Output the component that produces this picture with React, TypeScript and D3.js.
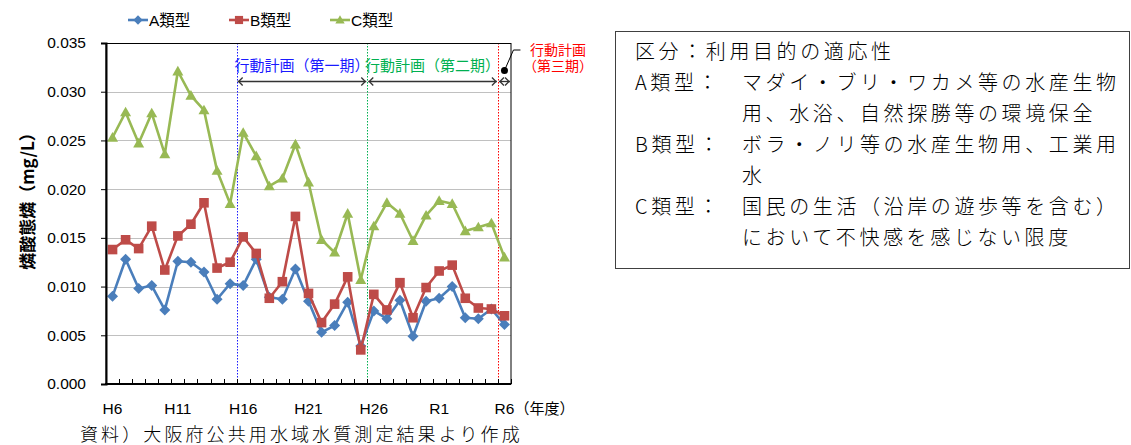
import { useEffect, useRef } from "react";
import * as d3 from "d3";

// 年度 (H6〜R6)
const categories = [
  "H6", "H7", "H8", "H9", "H10", "H11", "H12", "H13", "H14", "H15",
  "H16", "H17", "H18", "H19", "H20", "H21", "H22", "H23", "H24", "H25",
  "H26", "H27", "H28", "H29", "H30", "R1", "R2", "R3", "R4", "R5", "R6",
];
const tickLabels = ["H6", "H11", "H16", "H21", "H26", "R1", "R6"];
const yTicks = [0, 0.005, 0.01, 0.015, 0.02, 0.025, 0.03, 0.035];

const typeA = [
  0.0090, 0.0128, 0.0098, 0.0101, 0.0076, 0.0126, 0.0125, 0.0115, 0.0087, 0.0103,
  0.0101, 0.0128, 0.0089, 0.0087, 0.0118, 0.0085, 0.0053, 0.0060, 0.0084, 0.0039,
  0.0075, 0.0067, 0.0086, 0.0049, 0.0085, 0.0088, 0.0100, 0.0068, 0.0067, 0.0077, 0.0061,
];
const typeB = [
  0.0138, 0.0148, 0.0139, 0.0162, 0.0117, 0.0152, 0.0164, 0.0186, 0.0119, 0.0125,
  0.0151, 0.0134, 0.0088, 0.0105, 0.0172, 0.0093, 0.0063, 0.0082, 0.0110, 0.0035,
  0.0092, 0.0076, 0.0104, 0.0068, 0.0099, 0.0116, 0.0122, 0.0088, 0.0078, 0.0077, 0.0070,
];
const typeC = [
  0.0253, 0.0279, 0.0247, 0.0278, 0.0236, 0.0321, 0.0296, 0.0281, 0.0219, 0.0185,
  0.0258, 0.0234, 0.0203, 0.0211, 0.0246, 0.0207, 0.0148, 0.0135, 0.0175, 0.0107,
  0.0162, 0.0186, 0.0175, 0.0147, 0.0173, 0.0188, 0.0185, 0.0157, 0.0161, 0.0165, 0.0130,
];

const seriesNames = ["A類型", "B類型", "C類型"];
const periodLabels = ["行動計画（第一期）", "行動計画（第二期）"];
const periodStarts = ["H16", "H26", "R6"];
const thirdPeriodLabel = ["行動計画", "（第三期）"];

const noteHeads = ["区分：", "A類型：", "", "B類型：", "", "C類型：", ""];
const noteBodies = [
  "利用目的の適応性",
  "マダイ・ブリ・ワカメ等の水産生物",
  "用、水浴、自然探勝等の環境保全",
  "ボラ・ノリ等の水産生物用、工業用",
  "水",
  "国民の生活（沿岸の遊歩等を含む）",
  "において不快感を感じない限度",
];

const SANS = "'Liberation Sans', Arial, 'Noto Sans CJK JP', sans-serif";
const CJK = "'Noto Sans CJK JP', sans-serif";

export default function App() {
  const ref = useRef<SVGSVGElement>(null);

  useEffect(() => {
    if (!ref.current) return;
    const width = 1131;
    const height = 445;
    const plot = { left: 106, right: 511, top: 43, bottom: 384 };

    const svg = d3.select(ref.current).attr("width", width).attr("height", height);
    svg.selectAll("*").remove();
    svg.append("rect").attr("width", width).attr("height", height).attr("fill", "#fff");

    const x = d3.scaleBand<string>().domain(categories).range([plot.left, plot.right]);
    const cx = (c: string) => (x(c) ?? 0) + x.bandwidth() / 2;
    const y = d3.scaleLinear().domain([0, 0.035]).range([plot.bottom, plot.top]);

    // gridlines
    svg
      .append("g")
      .selectAll("line")
      .data(yTicks.filter((t) => t > 0 && t < 0.035))
      .join("line")
      .attr("x1", plot.left)
      .attr("x2", plot.right)
      .attr("y1", (d) => Math.round(y(d)) + 0.5)
      .attr("y2", (d) => Math.round(y(d)) + 0.5)
      .attr("stroke", "#c0c0c0")
      .attr("stroke-width", 1);

    // period boundaries
    const periodColors = ["#1a1aff", "#00b050", "#ff0000"];
    periodStarts.forEach((p, i) => {
      const px = Math.round(x(p) ?? 0) + 0.5;
      svg
        .append("line")
        .attr("x1", px)
        .attr("x2", px)
        .attr("y1", plot.top)
        .attr("y2", plot.bottom)
        .attr("stroke", periodColors[i])
        .attr("stroke-width", 1)
        .attr("stroke-dasharray", "1.5,1.5");
    });

    // series
    const series = [
      { name: seriesNames[0], values: typeA, color: "#4a7ebb", shape: "diamond" },
      { name: seriesNames[1], values: typeB, color: "#be4b48", shape: "square" },
      { name: seriesNames[2], values: typeC, color: "#98b954", shape: "triangle" },
    ];

    const markerPath = (shape: string, px: number, py: number, k = 1) => {
      if (shape === "diamond") {
        const r = 5.5 * k;
        return `M${px},${py - r}L${px + r},${py}L${px},${py + r}L${px - r},${py}Z`;
      }
      if (shape === "square") {
        const r = 4.8 * k;
        return `M${px - r},${py - r}H${px + r}V${py + r}H${px - r}Z`;
      }
      const r = 5.5 * k;
      return `M${px},${py - r}L${px + r},${py + r * 0.75}L${px - r},${py + r * 0.75}Z`;
    };

    const line = d3
      .line<number>()
      .x((_, i) => cx(categories[i]))
      .y((d) => y(d));

    series.forEach((s) => {
      const g = svg.append("g");
      g.append("path")
        .datum(s.values)
        .attr("fill", "none")
        .attr("stroke", s.color)
        .attr("stroke-width", 2.6)
        .attr("stroke-linejoin", "round")
        .attr("d", line);
      g.selectAll("path.m")
        .data(s.values)
        .join("path")
        .attr("class", "m")
        .attr("fill", s.color)
        .attr("d", (d, i) => markerPath(s.shape, cx(categories[i]), y(d)));
    });

    // frame
    svg
      .append("rect")
      .attr("x", plot.left)
      .attr("y", plot.top + 0.5)
      .attr("width", plot.right - plot.left)
      .attr("height", plot.bottom - plot.top - 0.5)
      .attr("fill", "none")
      .attr("stroke", "#000")
      .attr("stroke-width", 1);

    // y axis
    const yAxis = d3
      .axisLeft(y)
      .tickValues(yTicks)
      .tickSize(5)
      .tickPadding(15)
      .tickFormat((d) => d3.format(".3f")(d as number));
    const yg = svg.append("g").attr("transform", `translate(${plot.left},0)`).call(yAxis);
    yg.select(".domain").attr("stroke", "#000").attr("stroke-width", 2);
    yg.selectAll(".tick line").attr("stroke", "#000");
    yg.selectAll("text")
      .attr("fill", "#000")
      .style("font-family", SANS)
      .style("font-size", "15.5px");

    // bottom axis line and inner ticks
    svg
      .append("line")
      .attr("x1", plot.left - 1)
      .attr("x2", plot.right)
      .attr("y1", plot.bottom)
      .attr("y2", plot.bottom)
      .attr("stroke", "#000")
      .attr("stroke-width", 2);
    svg
      .append("g")
      .selectAll("line")
      .data([...categories.map((c) => x(c) ?? 0), plot.right])
      .join("line")
      .attr("x1", (d) => Math.round(d) + 0.5)
      .attr("x2", (d) => Math.round(d) + 0.5)
      .attr("y1", plot.bottom)
      .attr("y2", plot.bottom - 5)
      .attr("stroke", "#000");

    svg
      .append("g")
      .selectAll("text")
      .data(tickLabels)
      .join("text")
      .attr("x", (d) => cx(d))
      .attr("y", 414)
      .attr("text-anchor", "middle")
      .style("font-family", SANS)
      .style("font-size", "15.5px")
      .text((d) => d);
    svg
      .append("text")
      .attr("x", cx("R6") + 10)
      .attr("y", 414)
      .style("font-family", CJK)
      .style("font-size", "15px")
      .text("（年度）");

    // y axis title
    svg
      .append("text")
      .attr("transform", `translate(34,197) rotate(-90)`)
      .attr("text-anchor", "middle")
      .style("font-family", CJK)
      .style("font-size", "17px")
      .style("font-weight", "bold")
      .text("燐酸態燐（mg/L）");

    // period annotations
    const arrowY = 81.5;
    const arrow = (x1: number, x2: number) => {
      const g = svg.append("g").attr("stroke", "#333").attr("fill", "none").attr("stroke-width", 1.3);
      g.append("line").attr("x1", x1).attr("x2", x2).attr("y1", arrowY).attr("y2", arrowY);
      g.append("path").attr("d", `M${x1 + 5},${arrowY - 4}L${x1 + 1},${arrowY}L${x1 + 5},${arrowY + 4}`);
      g.append("path").attr("d", `M${x2 - 5},${arrowY - 4}L${x2 - 1},${arrowY}L${x2 - 5},${arrowY + 4}`);
    };
    const bounds = [x("H16") ?? 0, x("H26") ?? 0, x("R6") ?? 0, plot.right];
    periodLabels.forEach((label, i) => {
      arrow(bounds[i] + 1, bounds[i + 1] - 1);
      svg
        .append("text")
        .attr("x", (bounds[i] + bounds[i + 1]) / 2)
        .attr("y", 71)
        .attr("text-anchor", "middle")
        .attr("fill", periodColors[i])
        .style("font-family", CJK)
        .style("font-size", "15px")
        .text(label);
    });
    arrow(bounds[2] + 1, bounds[3] - 1);

    // third-period callout
    const dotX = cx("R6");
    svg.append("circle").attr("cx", dotX).attr("cy", 70.5).attr("r", 3.5).attr("fill", "#000");
    svg
      .append("path")
      .attr("d", `M${dotX},70.5L${dotX + 9},50L${dotX + 16},50`)
      .attr("fill", "none")
      .attr("stroke", "#000")
      .attr("stroke-width", 1);
    thirdPeriodLabel.forEach((t, i) => {
      svg
        .append("text")
        .attr("x", 558)
        .attr("y", 55 + i * 16)
        .attr("text-anchor", "middle")
        .attr("fill", "#ff0000")
        .style("font-family", SANS)
        .style("font-size", "14px")
        .text(t);
    });

    // legend
    series.forEach((s, i) => {
      const lx = 128 + i * 101;
      const ly = 20;
      svg
        .append("line")
        .attr("x1", lx)
        .attr("x2", lx + 20)
        .attr("y1", ly)
        .attr("y2", ly)
        .attr("stroke", s.color)
        .attr("stroke-width", 2.6);
      svg.append("path").attr("fill", s.color).attr("d", markerPath(s.shape, lx + 10, ly, 0.85));
      svg
        .append("text")
        .attr("x", lx + 21)
        .attr("y", ly + 6)
        .style("font-family", SANS)
        .style("font-size", "15.5px")
        .text(s.name);
    });

    // note box
    svg
      .append("rect")
      .attr("x", 615.5)
      .attr("y", 31.5)
      .attr("width", 514)
      .attr("height", 237)
      .attr("fill", "none")
      .attr("stroke", "#404040")
      .attr("stroke-width", 1);
    noteBodies.forEach((body, i) => {
      const ty = 59 + i * 31;
      const head = noteHeads[i];
      const t = svg
        .append("text")
        .attr("y", ty)
        .style("font-family", CJK)
        .style("font-weight", "300")
        .style("font-size", "20px")
        .style("letter-spacing", "3.6px")
        .attr("fill", "#000");
      if (i === 0) {
        t.attr("x", 635).text(head + body);
      } else {
        t.attr("x", 742).text(body);
        if (head) {
          svg
            .append("text")
            .attr("x", 635)
            .attr("y", ty)
            .style("font-family", CJK)
            .style("font-weight", "300")
            .style("font-size", "20px")
            .style("letter-spacing", "3.6px")
            .text(head);
        }
      }
    });

    // source
    svg
      .append("text")
      .attr("x", 80)
      .attr("y", 441)
      .style("font-family", CJK)
      .style("font-weight", "300")
      .style("font-size", "18px")
      .style("letter-spacing", "3.1px")
      .text("資料）大阪府公共用水域水質測定結果より作成");
  }, []);

  return <svg ref={ref} style={{ position: "absolute", left: 0, top: 0 }} />;
}
